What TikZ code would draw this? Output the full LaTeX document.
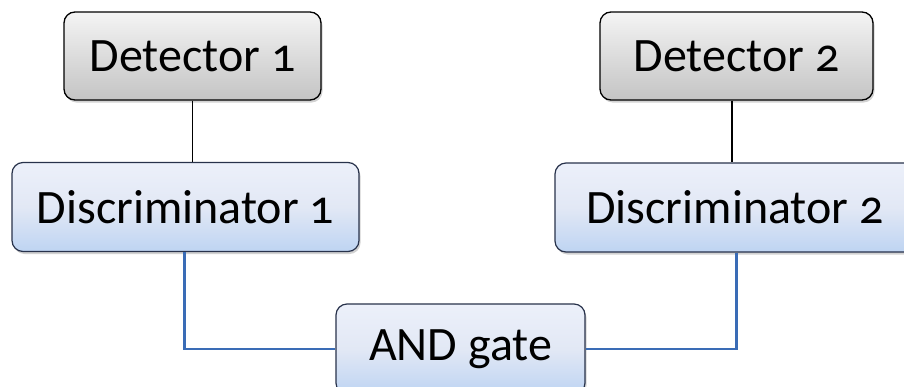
\documentclass[tikz,border=0pt]{standalone}
\usepackage{fontspec}
\setmainfont{Carlito}[Numbers=OldStyle]
\usetikzlibrary{shadows}
\definecolor{detTop}{RGB}{244,244,244}
\definecolor{detBot}{RGB}{196,196,196}
\definecolor{discTop}{RGB}{236,240,250}
\definecolor{discMid}{RGB}{226,232,245}
\definecolor{discBot}{RGB}{190,212,242}
\definecolor{discLine}{RGB}{40,50,75}
\definecolor{wire}{RGB}{58,108,182}
\tikzset{
  detbox/.style={rectangle, rounded corners=11pt, draw=black, line width=1.3pt,
    top color=detTop, bottom color=detBot, minimum height=88pt,
    drop shadow={shadow xshift=1.5pt, shadow yshift=-2.5pt, opacity=0.35},
    font=\fontsize{48}{52}\selectfont, inner sep=0pt},
  discbox/.style={rectangle, rounded corners=11pt, draw=discLine, line width=1.2pt,
    top color=discTop, bottom color=discBot, middle color=discMid, minimum height=89pt,
    drop shadow={shadow xshift=1.5pt, shadow yshift=-2.5pt, opacity=0.35},
    font=\fontsize{48}{52}\selectfont, inner sep=0pt},
  blackwire/.style={draw=black, line width=1.7pt},
  bluewire/.style={draw=wire, line width=2.5pt},
}
\begin{document}
\begin{tikzpicture}[x=1pt,y=-1pt]
\fill[white] (0,0) rectangle (904,386);
\useasboundingbox (0,0) rectangle (904,386);
\clip (0,0) rectangle (904,386);
\node[detbox, minimum width=257pt] (det1) at (192.5,56) {Detector 1};
\node[detbox, minimum width=273pt] (det2) at (736.5,56) {Detector 2};
\node[discbox, minimum width=347pt] (disc1) at (185.5,207) {Discriminator 1};
\node[discbox, minimum width=360pt] (disc2) at (735,207.5) {Discriminator 2};
\node[discbox, minimum width=249pt, minimum height=90pt] (and) at (460.5,349) {AND gate};
\draw[blackwire] (det1.south) -- (det1.south |- disc1.north);
\draw[blackwire] (det2.south -| 732,0) -- (732,0 |- disc2.north);
\draw[bluewire] (disc1.south -| 184.7,0) |- (and.west);
\draw[bluewire] (disc2.south -| 736.7,0) |- (and.east);
\end{tikzpicture}
\end{document}
